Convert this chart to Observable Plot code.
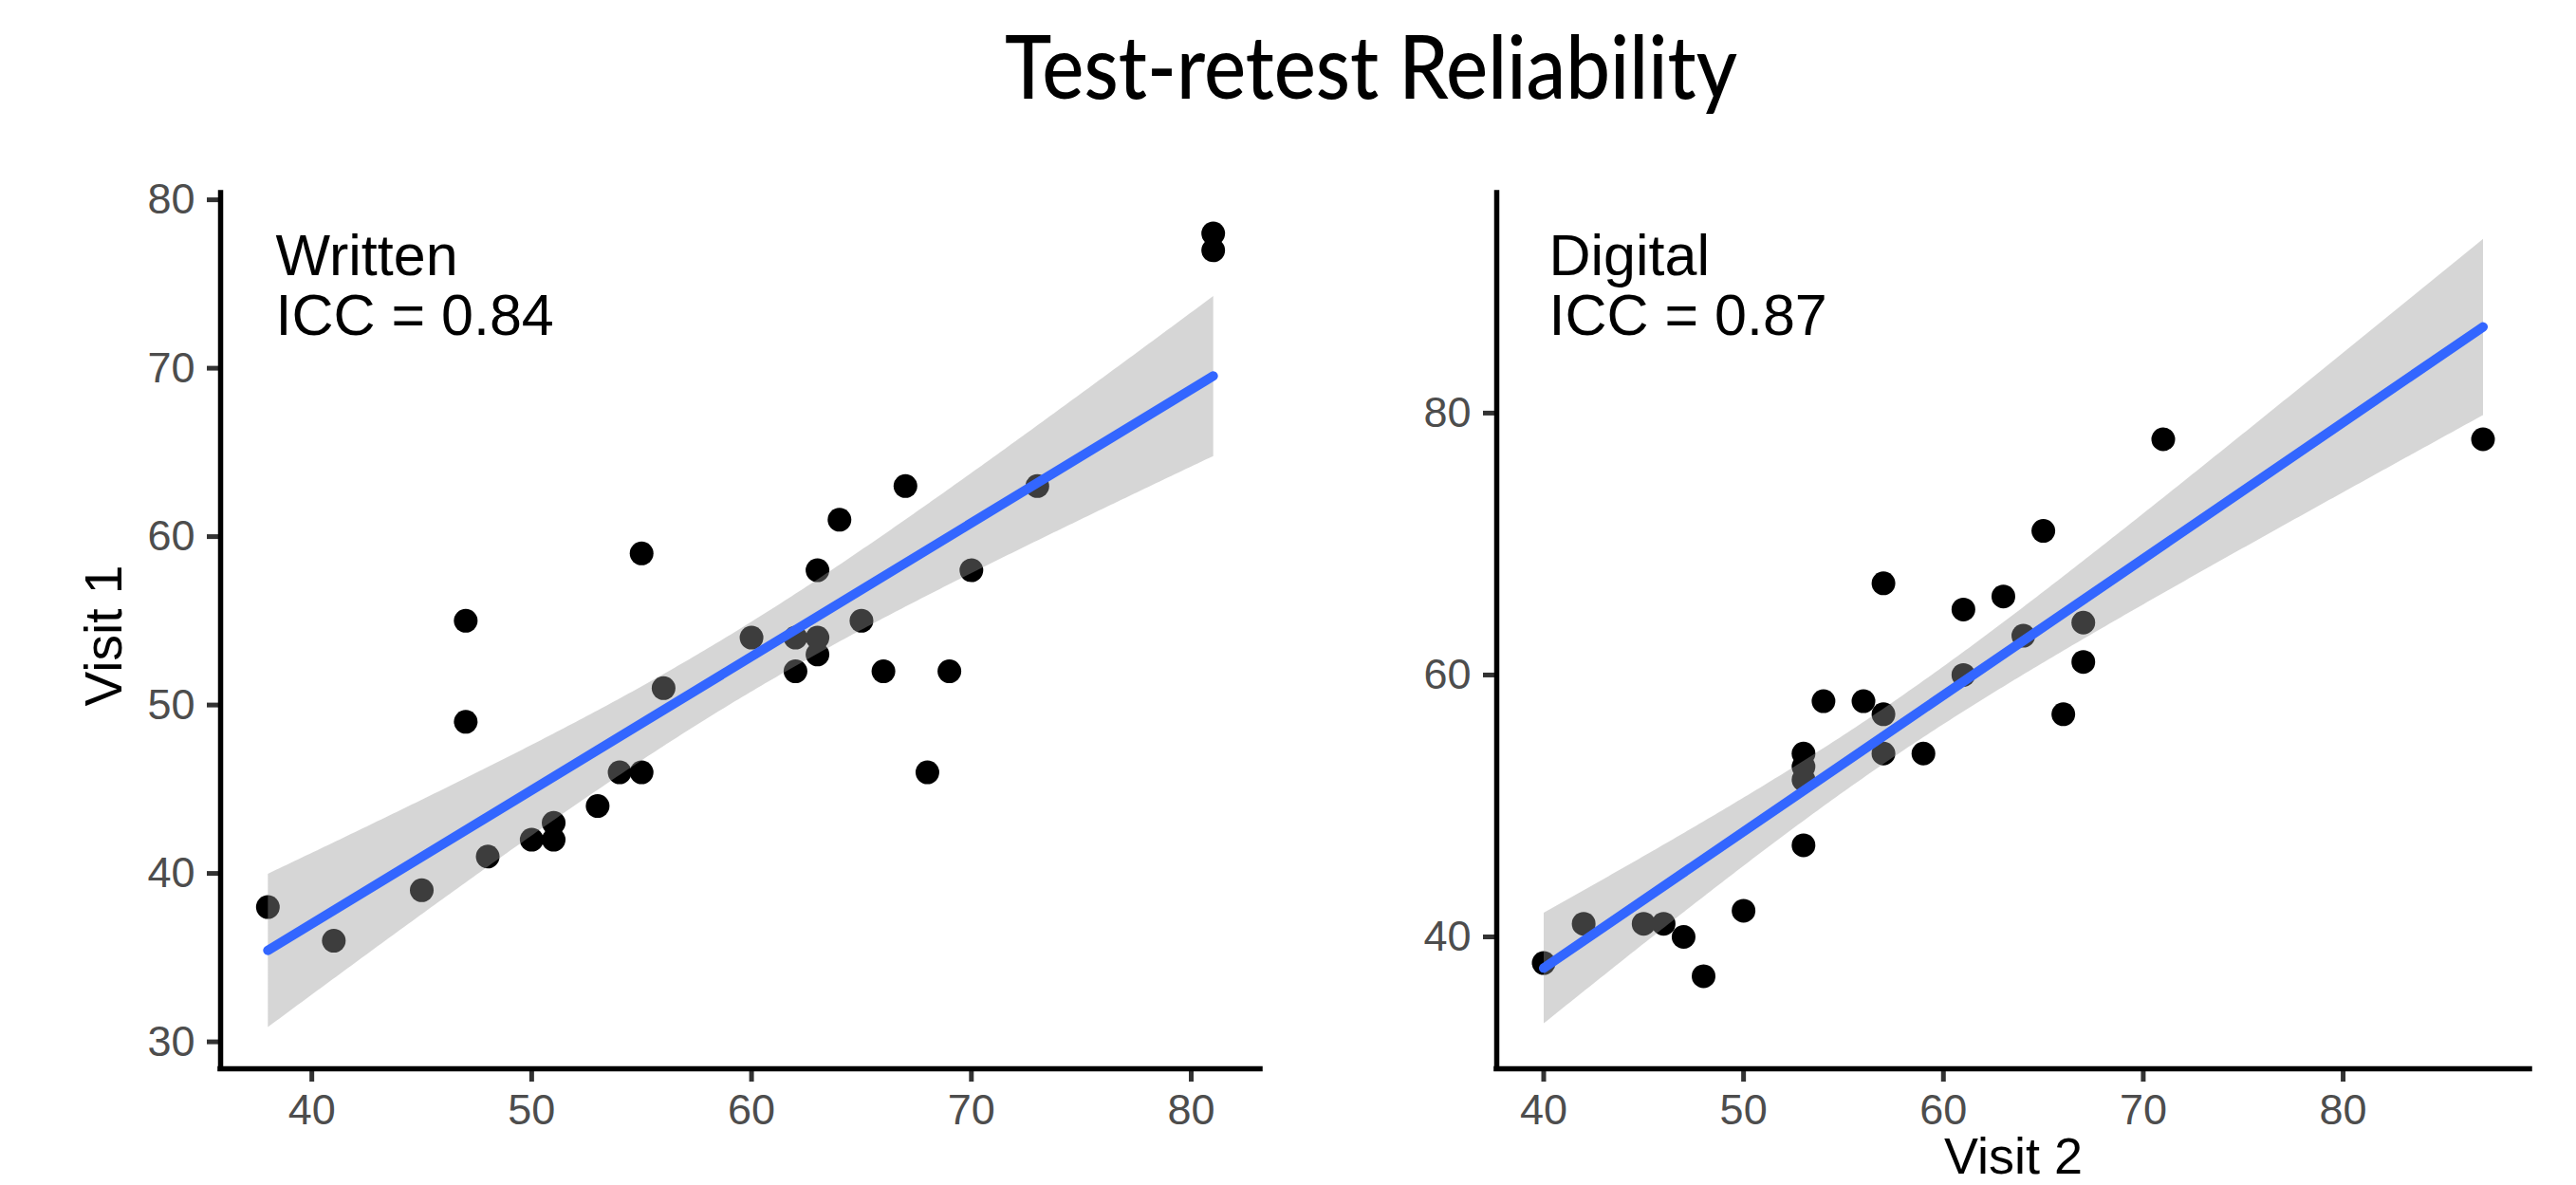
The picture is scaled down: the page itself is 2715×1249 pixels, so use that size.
<!DOCTYPE html>
<html><head><meta charset="utf-8">
<script src="https://cdn.jsdelivr.net/npm/d3@7"></script>
<script src="https://cdn.jsdelivr.net/npm/@observablehq/plot@0.6"></script>
<style>
html,body{margin:0;padding:0;background:#fff;}
#wrap{position:relative;width:2715px;height:1249px;overflow:hidden;background:#fff;}
#wrap > *{position:absolute;}
</style></head><body><div id="wrap"></div>
<script>
const titleText = "Test-retest Reliability";
const panelNames = ["Written", "Digital"];
const iccValues = [0.84, 0.87];
const xLabels = ["", "Visit 2"];
const yLabels = ["Visit 1", ""];
const xTicks = [40, 50, 60, 70, 80];
const yTicksWritten = [30, 40, 50, 60, 70, 80];
const yTicksDigital = [40, 60, 80];

const writtenVisit2 = [38,41,45,47,47,48,50,51,51,53,54,55,55,56,60,62,62,63,63,63,64,65,66,67,68,69,70,73,81,81];
const writtenVisit1 = [38,36,39,55,49,41,42,42,43,44,46,46,59,51,54,54,52,58,54,53,61,55,52,63,46,52,58,63,78,77];
const digitalVisit2 = [40,42,45,46,47,48,50,53,53,53,53,54,56,57,57,57,59,61,61,63,64,65,66,67,67,71,87];
const digitalVisit1 = [38,41,41,41,40,37,42,47,52,53,54,58,58,57,54,67,54,60,65,66,63,71,57,64,61,78,78];

const wrap = document.getElementById("wrap");

// Title
const tsvg = d3.create("svg").attr("width", 2715).attr("height", 180).style("left", "0px").style("top", "0px");
tsvg.append("text").attr("x", 1445).attr("y", 104).attr("text-anchor", "middle")
  .attr("font-family", "Lato, 'Open Sans', sans-serif").attr("font-size", 92).attr("font-weight", 500)
  .attr("textLength", 772).attr("lengthAdjust", "spacingAndGlyphs").attr("fill", "#000")
  .text(titleText);
wrap.appendChild(tsvg.node());

function panel({v2, v1, name, icc, xDomain, yDomain, yTicks, xLabel, yLabel, width, marginLeft, marginRight, left, annDx}) {
  const data = v2.map((x, i) => ({x, y: v1[i]}));
  const marks = [
    Plot.dot(data, {x: "x", y: "y", r: 12.5, fill: "#000", stroke: "none"}),
    Plot.linearRegressionY(data, {x: "x", y: "y", ci: 0.95, fill: "#999999", fillOpacity: 0.4, stroke: "#3366FF", strokeWidth: 10}),
    Plot.axisX({ticks: xTicks, tickSize: 14, tickPadding: 13, stroke: "#333333", strokeWidth: 5, fill: "#4D4D4D", fontSize: 45, label: null, tickFormat: d => String(d)}),
    Plot.axisY({ticks: yTicks, tickSize: 14, tickPadding: 13, stroke: "#333333", strokeWidth: 5, fill: "#4D4D4D", fontSize: 45, label: null, tickFormat: d => String(d)}),
    Plot.ruleY([yDomain[0]], {stroke: "#000", strokeWidth: 5.5, strokeLinecap: "square"}),
    Plot.ruleX([xDomain[0]], {stroke: "#000", strokeWidth: 5.5, strokeLinecap: "square"}),
    Plot.text([`${name}\nICC = ${icc.toFixed(2)}`], {text: d => d, frameAnchor: "top-left", dx: annDx, dy: 42, lineAnchor: "top", textAnchor: "start", fontSize: 61, lineHeight: 1.03, fill: "#000"})
  ];
  if (yLabel) marks.push(Plot.text([yLabel], {text: d => d, frameAnchor: "left", dx: -122, dy: 5, rotate: -90, textAnchor: "middle", lineAnchor: "middle", fontSize: 55, fill: "#000"}));
  if (xLabel) marks.push(Plot.text([xLabel], {text: d => d, frameAnchor: "bottom", dy: 72, textAnchor: "middle", lineAnchor: "top", fontSize: 54, fill: "#000"}));
  const p = Plot.plot({
    width, height: 1069,
    marginTop: 23, marginBottom: 123, marginLeft, marginRight,
    x: {domain: xDomain},
    y: {domain: yDomain},
    style: {fontFamily: "'Liberation Sans', Arial, sans-serif", background: "transparent", overflow: "visible"},
    marks
  });
  p.style.left = left + "px";
  p.style.top = "180px";
  wrap.appendChild(p);
}

panel({v2: writtenVisit2, v1: writtenVisit1, name: panelNames[0], icc: iccValues[0],
  xDomain: [35.85, 83.15], yDomain: [28.4, 80.4], yTicks: yTicksWritten,
  xLabel: xLabels[0], yLabel: yLabels[0], width: 1400, marginLeft: 232, marginRight: 72, left: 0, annDx: 58});
panel({v2: digitalVisit2, v1: digitalVisit1, name: panelNames[1], icc: iccValues[1],
  xDomain: [37.65, 89.35], yDomain: [29.93, 96.8], yTicks: yTicksDigital,
  xLabel: xLabels[1], yLabel: yLabels[1], width: 1315, marginLeft: 177, marginRight: 49, left: 1400, annDx: 55});
</script></body></html>
